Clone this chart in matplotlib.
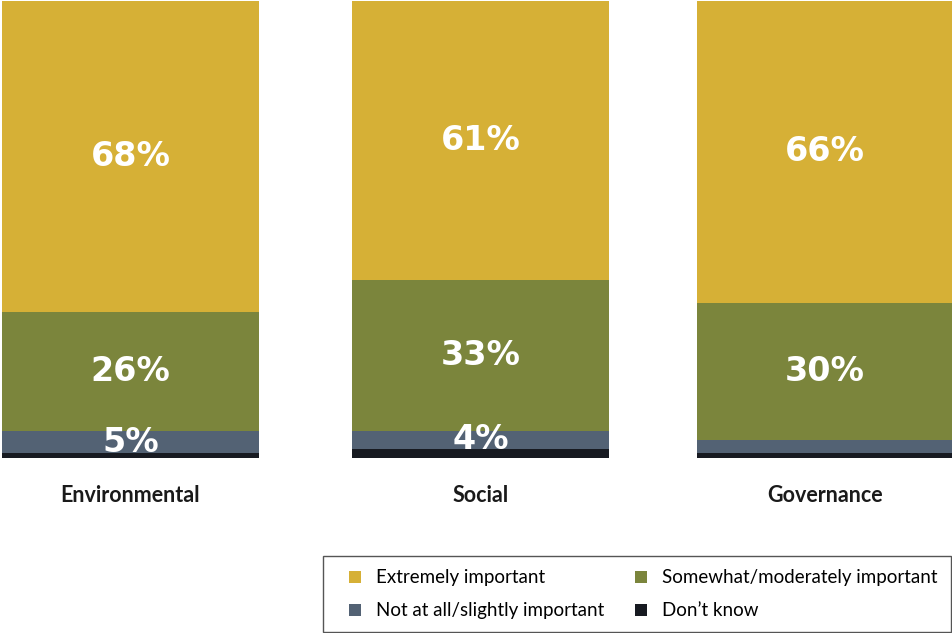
import matplotlib
matplotlib.use("Agg")
import matplotlib.pyplot as plt
import numpy as np
from matplotlib.lines import Line2D

# ESG pillar importance (percent of respondents)
categories = ["Environmental", "Social", "Governance"]
series_names = ["Extremely important", "Somewhat/moderately important",
                "Not at all/slightly important", "Don\u2019t know"]
extremely = [68, 61, 66]
somewhat = [26, 33, 30]
not_at_all = [5, 4, 3]
dont_know = [1, 2, 1]
labels_shown = [True, True, False]  # third segment label only where it fits

colors = ["#D6B036", "#7B853C", "#536274", "#171A21"]

fig = plt.figure(figsize=(9.53, 6.33), dpi=100)
ax = fig.add_axes([0, 1 - 458 / 633, 1, (458 - 1) / 633])

x = np.array([0.0, 1.008, 2.0])
width = 0.74
stack = [dont_know, not_at_all, somewhat, extremely]
stack_colors = [colors[3], colors[2], colors[1], colors[0]]
bottom = np.zeros(len(categories))
seg_bottoms = []
for vals, col in zip(stack, stack_colors):
    vals = np.array(vals, dtype=float)
    ax.bar(x, vals, width=width, bottom=bottom, color=col, linewidth=0)
    seg_bottoms.append(bottom.copy())
    bottom = bottom + vals

pct_font = dict(family="DejaVu Sans", weight="bold", size=24, color="white",
                ha="center", va="center")
for i in range(len(categories)):
    ax.text(x[i], seg_bottoms[3][i] + extremely[i] / 2, f"{extremely[i]}%", **pct_font)
    ax.text(x[i], seg_bottoms[2][i] + somewhat[i] / 2, f"{somewhat[i]}%", **pct_font)
    if labels_shown[i]:
        ax.text(x[i], seg_bottoms[1][i] + not_at_all[i] / 2, f"{not_at_all[i]}%", **pct_font)

unit = 347.25
ax.set_xlim(-130.5 / unit, 2 + (953 - 825) / unit)
ax.set_ylim(0, 100)
ax.axis("off")

for i, c in enumerate(categories):
    ax.text(x[i], -8.1, c, ha="center", va="center", fontsize=15.5,
            fontweight="bold", family="Lato", color="#1a1a1a")

order = [0, 2, 1, 3]
handles = [Line2D([], [], linestyle="none", marker="s", markersize=8.6,
                  markerfacecolor=colors[k], markeredgewidth=0) for k in order]
names = [series_names[k] for k in order]
leg = fig.legend(handles, names, ncol=2, loc="upper left",
                 bbox_to_anchor=(323 / 953, 1 - 556 / 633),
                 frameon=True, fancybox=False, framealpha=1,
                 edgecolor="#555555", prop=dict(family="Lato", size=13.5),
                 handlelength=2.0, handletextpad=0.13,
                 columnspacing=0.95, borderpad=0.7, labelspacing=0.85,
                 borderaxespad=0)
leg.get_frame().set_linewidth(1.0)

fig.savefig("out.png", dpi=100)
